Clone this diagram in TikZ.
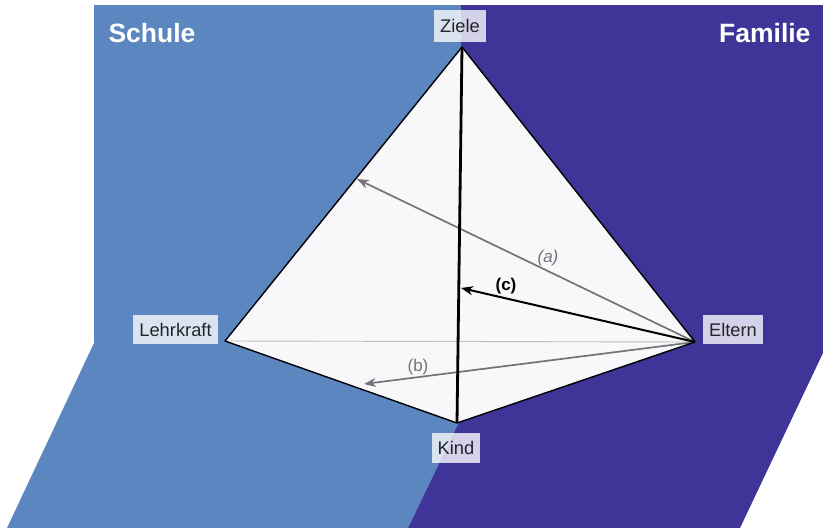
\documentclass[tikz,border=0pt]{standalone}
\usepackage{fontspec}
\setmainfont{Liberation Sans}
\usetikzlibrary{arrows.meta}
\definecolor{schule}{RGB}{91,134,192}
\definecolor{familie}{RGB}{63,53,153}
\definecolor{tetra}{RGB}{248,248,250}
\definecolor{lbl}{RGB}{35,35,40}
\definecolor{arrgray}{RGB}{115,115,120}
\tikzset{
  vlabel/.style={fill=white, fill opacity=0.78, text opacity=1, text=lbl,
    inner xsep=6pt, inner ysep=0pt, minimum height=29pt,
    font=\fontsize{18.3}{21}\selectfont},
  region/.style={text=white, font=\fontsize{26.5}{30}\selectfont\bfseries},
  edge/.style={draw=black, line width=1.4pt, line join=round},
  grayarrow/.style={draw=arrgray, line width=1.7pt, -{Stealth[length=12pt,width=9pt]}},
  blackarrow/.style={draw=black, line width=2pt, -{Stealth[length=12pt,width=9pt]}},
  arrlabel/.style={font=\fontsize{17}{20}\selectfont}
}
\begin{document}
\begin{tikzpicture}[x=1pt,y=-1pt]
\useasboundingbox (0,0) rectangle (823,528);
% regions
\fill[schule] (94,5) -- (461,5) -- (461,418) -- (408,528) -- (7,528) -- (94,343) -- cycle;
\fill[familie] (461,5) -- (823,5) -- (823,353) -- (740,528) -- (408,528) -- (461,418) -- cycle;
\node[region, anchor=base west] (schule) at (105,42) {Schule};
\node[region, anchor=base east] (familie) at (814,42) {Familie};
% vertices
\coordinate (Z) at (462,47);
\coordinate (L) at (225,341);
\coordinate (E) at (695,342);
\coordinate (K) at (457,423);
% tetrahedron
\fill[tetra] (Z) -- (L) -- (K) -- (E) -- cycle;
\draw[draw=black!25, line width=0.9pt] (L) -- (E);
% arrow targets
\coordinate (ta) at (357,179);
\coordinate (tb) at (364,384);
\coordinate (tc) at (461,288);
\draw[grayarrow] (E) -- (ta);
\draw[grayarrow] (E) -- (tb);
\draw[edge] (Z) -- (L) -- (K) -- (E) -- cycle;
\draw[draw=black, line width=2.8pt] (Z) -- (K);
\draw[blackarrow] (E) -- (tc);
% arrow labels
\node[arrlabel, text=arrgray] (la) at (548,258) {\itshape (a)};
\node[arrlabel, text=black] (lc) at (506,286) {\bfseries (c)};
\node[arrlabel, text=arrgray] (lb) at (418,367) {(b)};
% vertex labels
\node[vlabel, minimum height=32pt] (zl) at (460,26) {Ziele};
\node[vlabel] (ll) at (175.5,329.5) {Lehrkraft};
\node[vlabel] (el) at (733,329.5) {Eltern};
\node[vlabel, minimum height=30pt] (kl) at (456,448) {Kind};
\end{tikzpicture}
\end{document}
